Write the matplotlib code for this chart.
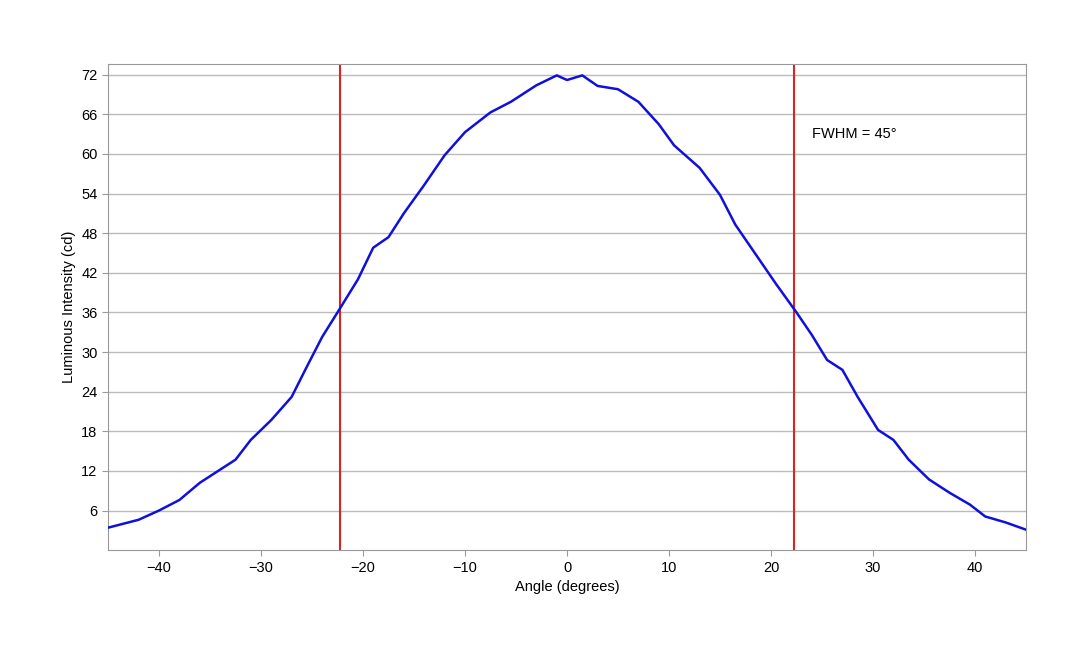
import matplotlib
matplotlib.use("Agg")
import matplotlib.pyplot as plt

plt.rcParams['font.family'] = ['Liberation Sans', 'DejaVu Sans']

angle = [-45, -42, -40, -38, -36, -34, -32.5, -31, -29, -27, -25.5, -24, -22.5, -20.5, -19, -17.5, -16, -14, -12, -10, -7.5, -5.5, -3, -1, 0, 1.5, 3, 5, 7, 9, 10.5, 13, 15, 16.5, 18.5, 20.5, 22.5, 24, 25.5, 27, 28.5, 30.5, 32, 33.5, 35.5, 37.5, 39.5, 41, 43, 45]
intensity = [3.4, 4.6, 6.0, 7.6, 10.2, 12.2, 13.7, 16.7, 19.7, 23.2, 27.8, 32.3, 36.0, 41.0, 45.8, 47.4, 51.0, 55.3, 59.8, 63.3, 66.3, 67.9, 70.4, 71.9, 71.2, 71.9, 70.3, 69.8, 67.9, 64.5, 61.3, 57.9, 53.8, 49.3, 44.8, 40.3, 36.0, 32.6, 28.8, 27.3, 23.2, 18.2, 16.7, 13.7, 10.7, 8.7, 6.9, 5.1, 4.2, 3.1]
fwhm_lines = [-22.25, 22.25]
yticks = [6, 12, 18, 24, 30, 36, 42, 48, 54, 60, 66, 72]
xticks = [-40, -30, -20, -10, 0, 10, 20, 30, 40]

fig = plt.figure(figsize=(10.8, 6.48), dpi=100)
ax = fig.add_axes([0.1, 0.151, 0.85, 0.75])
ax.plot(angle, intensity, color='#1010dd', lw=1.8, zorder=3)
for x in fwhm_lines:
    ax.axvline(x, color='#dd2222', lw=1.5, zorder=2)
ax.text(24, 62, 'FWHM = 45°', fontsize=10.5, va='bottom')
ax.set_xlim(-45, 45)
ax.set_ylim(0, 73.6)
ax.set_xticks(xticks)
ax.set_yticks(yticks)
ax.yaxis.grid(True, color='#bbbbbb', lw=1)
ax.set_axisbelow(True)
for s in ax.spines.values():
    s.set_color('#999999')
ax.tick_params(colors='#999999', labelcolor='black', labelsize=10.5, length=4)
ax.set_xlabel('Angle (degrees)', fontsize=10.5)
ax.set_ylabel('Luminous Intensity (cd)', fontsize=10.5)
fig.savefig('out.png', dpi=100)
